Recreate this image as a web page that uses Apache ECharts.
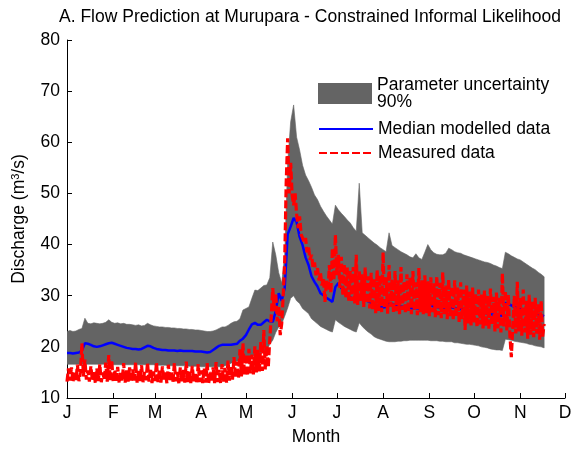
<!DOCTYPE html>
<html>
<head>
<meta charset="utf-8">
<script src="https://cdn.jsdelivr.net/npm/echarts@6/dist/echarts.min.js"></script>
<style>
  html, body { margin: 0; padding: 0; background: #fff; }
  #chart { width: 573px; height: 449px; }
</style>
</head>
<body>
<div id="chart"></div>
<script>
// Month start positions (day of year) and their tick labels
const MONTH_DAYS = [0, 31, 59, 90, 120, 151, 181, 212, 243, 273, 304, 334];
const MONTH_LABELS = ['J', 'F', 'M', 'A', 'M', 'J', 'J', 'A', 'S', 'O', 'N', 'D'];

// Modelled series are sampled every 2 days starting at day 0
const MODEL_STEP_DAYS = 2;

// 90% parameter-uncertainty band, upper limit (m3/s)
const bandUpper = [
  23.0,23.2,23.0,23.1,23.4,23.6,25.6,24.6,24.5,24.7,
  24.6,24.5,24.6,24.8,25.3,24.8,24.6,24.7,24.5,24.6,
  24.4,24.4,24.3,24.2,24.3,24.1,24.2,24.6,24.3,24.1,
  24.0,23.9,23.9,23.8,23.8,23.7,23.7,23.6,23.6,23.5,
  23.5,23.4,23.4,23.3,23.3,23.2,23.1,23.0,23.0,23.1,
  23.3,23.6,23.9,23.9,24.2,24.6,24.9,25.0,25.5,27.2,
  27.5,27.8,29.5,31.1,31.0,31.5,32.0,32.1,33.5,40.5,
  38.0,34.5,32.5,38.0,56.0,64.0,67.3,61.0,58.5,55.5,
  53.6,52.5,51.2,49.7,48.8,47.5,46.5,45.6,44.8,44.0,
  47.7,46.8,46.1,45.5,44.8,44.2,43.3,42.6,52.0,42.3,
  41.8,41.3,40.8,40.3,39.9,39.4,39.0,38.6,42.3,39.8,
  39.4,39.0,38.6,38.3,38.0,37.6,37.4,38.2,37.4,37.1,
  38.5,40.0,39.0,38.4,38.1,38.0,38.0,38.3,39.3,39.0,
  38.6,38.4,38.3,38.0,37.8,37.6,37.4,37.2,37.0,36.8,
  36.6,36.5,36.3,36.0,35.8,35.5,35.3,38.5,38.2,37.8,
  37.5,37.2,37.0,36.6,36.2,35.8,35.4,35.1,34.6,34.2,
  33.7
];

// 90% parameter-uncertainty band, lower limit (m3/s)
const bandLower = [
  16.6,16.6,16.6,16.6,16.6,16.6,16.6,16.6,16.6,16.6,
  16.6,16.6,16.6,16.6,16.6,16.5,16.5,16.5,16.5,16.5,
  16.5,16.5,16.5,16.5,16.5,16.5,16.5,16.5,16.5,16.5,
  16.4,16.4,16.4,16.4,16.3,16.3,16.3,16.3,16.3,16.3,
  16.3,16.2,16.2,16.2,16.2,16.1,16.1,16.1,16.1,16.1,
  16.1,16.1,16.1,16.3,16.5,16.8,17.0,17.2,17.4,17.6,
  17.8,18.0,18.2,18.3,18.6,18.8,19.1,19.4,20.5,21.3,
  22.8,23.9,24.5,26.0,27.6,29.5,30.0,29.0,28.5,27.5,
  27.0,26.5,25.5,25.0,24.5,24.0,23.7,23.4,23.1,22.9,
  25.3,24.8,24.4,24.0,23.7,23.4,23.1,22.9,24.7,24.0,
  23.4,22.9,22.5,22.0,21.7,21.5,21.3,21.1,21.0,21.0,
  21.0,21.1,21.1,21.2,21.2,21.3,21.3,21.3,21.3,21.3,
  21.3,21.3,21.2,21.2,21.2,21.1,21.1,21.0,21.0,21.0,
  20.8,20.8,20.7,20.6,20.5,20.5,20.4,20.3,20.2,20.0,
  19.9,19.8,19.6,19.5,19.4,19.4,19.3,21.5,21.4,21.3,
  21.1,21.0,20.9,20.8,20.7,20.5,20.4,20.2,20.1,20.0,
  19.8
];

// Median of the modelled discharge (m3/s)
const medianModelled = [
  18.8,18.8,18.7,18.8,18.9,19.3,20.7,20.6,20.4,20.1,
  20.0,20.1,20.3,20.5,20.7,20.8,20.6,20.4,20.2,20.0,
  19.8,19.7,19.6,19.6,19.5,19.6,19.9,20.2,20.1,19.8,
  19.6,19.5,19.4,19.4,19.3,19.3,19.3,19.2,19.3,19.2,
  19.2,19.2,19.2,19.1,19.1,19.1,19.0,18.9,19.0,19.4,
  19.8,20.2,20.4,20.4,20.4,20.4,20.5,20.6,21.2,21.6,
  22.3,23.4,24.4,24.7,24.3,24.3,24.8,25.3,25.0,24.9,
  27.0,30.5,29.0,31.5,42.0,43.5,45.2,44.4,41.5,39.9,
  37.5,36.0,33.8,32.7,31.8,30.5,30.1,29.6,29.2,28.8,
  31.7,32.5,31.5,30.7,30.2,29.7,29.4,29.1,30.0,29.6,
  29.2,28.9,28.6,28.2,27.8,27.8,27.7,27.8,28.6,28.4,
  28.2,28.0,27.9,27.8,27.7,27.6,27.5,27.6,27.5,27.4,
  27.6,28.3,28.1,27.9,27.8,27.7,27.6,27.7,27.8,27.7,
  27.6,27.5,27.4,27.3,27.2,27.1,27.0,26.9,26.8,26.7,
  26.6,26.5,26.4,26.3,26.2,26.2,26.1,28.6,28.4,28.1,
  27.8,27.6,27.4,27.2,27.0,26.8,26.7,26.5,26.4,26.2,
  26.0
];

// Measured discharge, one reading per day from day 0 (m3/s)
const measured = [
  13.2,15.8,13.4,16.0,13.1,15.2,13.5,16.5,13.3,15.0,
  20.7,14.2,17.5,13.6,15.4,13.2,16.2,13.5,15.1,13.0,
  15.8,13.3,16.6,13.1,15.0,13.6,16.9,13.2,18.4,13.4,
  17.4,13.1,15.5,13.3,16.1,12.9,15.2,13.4,16.8,13.0,
  15.4,13.2,16.0,13.1,15.6,13.4,17.0,13.0,15.3,13.3,
  16.4,13.1,15.1,13.5,16.9,13.2,15.8,12.9,15.2,13.3,
  17.0,13.1,15.6,13.0,16.2,13.4,15.0,12.9,16.5,13.2,
  15.3,13.0,16.8,13.3,15.1,12.9,16.0,13.2,15.5,13.0,
  17.1,13.1,15.2,12.9,16.3,13.3,15.0,12.8,16.6,13.1,
  15.4,12.9,15.9,13.0,16.8,12.8,15.1,13.2,16.0,12.9,
  17.0,13.1,15.5,12.9,16.6,13.2,15.9,13.0,17.3,13.4,
  16.2,13.6,18.0,14.0,17.1,13.8,19.5,14.2,20.7,14.5,
  18.6,14.3,19.6,14.8,18.5,14.6,20.1,15.0,19.4,15.2,
  21.0,15.3,23.3,15.5,20.2,16.0,21.5,26.0,31.5,27.0,
  30.5,25.0,28.0,22.3,24.5,30.0,36.6,52.0,60.8,50.0,
  56.0,49.7,47.7,50.0,46.0,43.2,45.5,42.0,41.3,40.5,
  41.3,38.5,39.5,37.0,38.0,35.5,36.5,34.0,35.4,33.0,
  34.5,32.0,33.5,28.8,33.0,31.0,36.0,30.5,39.3,33.0,
  41.9,34.0,38.0,31.5,37.6,30.0,36.2,29.5,35.5,28.8,
  34.8,29.0,35.6,28.5,38.0,28.2,35.0,29.0,34.2,27.8,
  35.5,28.5,33.8,27.5,34.5,27.2,33.5,26.6,35.0,27.0,
  34.0,26.8,38.5,27.5,33.6,26.5,36.0,27.8,33.2,26.6,
  34.8,27.0,33.0,26.4,35.6,27.2,32.8,26.5,34.2,26.8,
  33.5,26.4,34.8,27.0,32.6,26.2,35.4,26.8,33.0,26.4,
  34.0,26.6,32.8,26.0,33.6,26.8,32.4,25.8,33.8,26.2,
  32.5,25.6,34.6,26.4,32.0,25.4,33.2,26.0,31.8,25.2,
  33.0,25.8,31.6,24.8,32.6,25.4,31.2,23.3,32.0,24.6,
  30.8,24.2,31.6,24.8,30.4,23.8,31.2,24.4,30.2,23.6,
  31.0,24.0,30.0,23.4,31.4,24.2,29.8,23.0,30.6,23.6,
  29.6,22.8,34.4,24.0,31.0,23.2,30.2,22.4,18.0,24.0,
  30.0,22.6,32.7,23.0,29.6,22.2,31.2,22.8,29.0,21.6,
  30.2,22.4,28.8,21.9,29.6,22.6,28.4,21.4,29.0,22.0,
  24.5
];

// Y-axis range and tick spacing
const Y_MIN = 10, Y_MAX = 80, Y_STEP = 10;

const FONT = 'Liberation Sans, Arial, Helvetica, sans-serif';
const TEXT_SIZE = 17.5;
const BAND_GREY = '#646464';

// Rows of [day, lower, upper] for the uncertainty band
const bandRows = bandUpper.map((u, i) => [i * MODEL_STEP_DAYS, bandLower[i], u]);
const medianPairs = medianModelled.map((v, i) => [i * MODEL_STEP_DAYS, v]);
const measuredPairs = measured.map((v, i) => [i, v]);

const BAND_NAME = 'Parameter uncertainty 90%';
const MEDIAN_NAME = 'Median modelled data';
const MEASURED_NAME = 'Measured data';

// Draws the whole band as one polygon: along the upper limit, back along the lower one
function renderBand(params, api) {
  if (params.dataIndex !== 0) return null;
  const top = [], bottom = [];
  for (let i = 0; i < bandRows.length; i++) {
    const r = bandRows[i];
    top.push(api.coord([r[0], r[2]]));
    bottom.push(api.coord([r[0], r[1]]));
  }
  const points = top.concat(bottom.reverse());
  return {
    type: 'polygon',
    shape: { points: points },
    style: { fill: BAND_GREY, stroke: BAND_GREY, lineWidth: 0.6 },
    silent: true
  };
}

const chart = echarts.init(document.getElementById('chart'), null, { renderer: 'canvas' });

chart.setOption({
  animation: false,
  backgroundColor: '#ffffff',
  textStyle: { fontFamily: FONT, color: '#000' },
  title: {
    text: 'A. Flow Prediction at Murupara - Constrained Informal Likelihood',
    left: 54,
    top: 3,
    textStyle: { fontFamily: FONT, fontSize: TEXT_SIZE, fontWeight: 'normal', color: '#000' }
  },
  legend: [
    {
      data: [BAND_NAME],
      left: 313,
      top: 71,
      orient: 'vertical',
      icon: 'rect',
      itemWidth: 54,
      itemHeight: 21,
      selectedMode: false,
      itemStyle: { color: BAND_GREY },
      formatter: () => 'Parameter uncertainty\n90%',
      textStyle: { fontFamily: FONT, fontSize: TEXT_SIZE, lineHeight: 17, color: '#000' }
    },
    {
      data: [MEDIAN_NAME, MEASURED_NAME],
      left: 313,
      top: 115,
      orient: 'vertical',
      itemWidth: 54,
      itemHeight: 14,
      itemGap: 6,
      selectedMode: false,
      itemStyle: { opacity: 0 },
      textStyle: { fontFamily: FONT, fontSize: TEXT_SIZE, lineHeight: 17, color: '#000' }
    }
  ],
  grid: { left: 67, right: 8, top: 40, bottom: 51, outerBoundsMode: 'none', containLabel: false },
  xAxis: {
    type: 'value',
    min: MONTH_DAYS[0],
    max: MONTH_DAYS[MONTH_DAYS.length - 1],
    name: 'Month',
    nameLocation: 'middle',
    nameGap: 30,
    nameTextStyle: { fontFamily: FONT, fontSize: TEXT_SIZE, color: '#000' },
    axisLine: { onZero: false, lineStyle: { color: '#000', width: 1 } },
    axisTick: { inside: true, length: 5, customValues: MONTH_DAYS, lineStyle: { color: '#000' } },
    axisLabel: {
      customValues: MONTH_DAYS,
      margin: 6,
      fontFamily: FONT,
      fontSize: TEXT_SIZE,
      color: '#000',
      formatter: v => MONTH_LABELS[MONTH_DAYS.indexOf(v)]
    },
    splitLine: { show: false }
  },
  yAxis: {
    type: 'value',
    min: Y_MIN,
    max: Y_MAX,
    interval: Y_STEP,
    name: 'Discharge (m{sup|3}/s)',
    nameLocation: 'middle',
    nameGap: 31,
    nameTextStyle: {
      fontFamily: FONT,
      fontSize: TEXT_SIZE,
      color: '#000',
      rich: {
        sup: { fontFamily: FONT, fontSize: 11, color: '#000', verticalAlign: 'top', lineHeight: 11, padding: [0, 0, 8, 0] }
      }
    },
    axisLine: { show: true, lineStyle: { color: '#000', width: 1 } },
    axisTick: { show: true, inside: true, length: 5, lineStyle: { color: '#000' } },
    axisLabel: { margin: 7, fontFamily: FONT, fontSize: TEXT_SIZE, color: '#000' },
    splitLine: { show: false }
  },
  series: [
    {
      name: BAND_NAME,
      type: 'custom',
      renderItem: renderBand,
      data: bandRows,
      encode: { x: 0, y: [1, 2] },
      itemStyle: { color: BAND_GREY },
      silent: true,
      clip: true,
      z: 1
    },
    {
      name: MEDIAN_NAME,
      type: 'line',
      data: medianPairs,
      symbol: 'none',
      silent: true,
      itemStyle: { color: '#0000ff' },
      lineStyle: { color: '#0000ff', width: 2.5 },
      z: 2
    },
    {
      name: MEASURED_NAME,
      type: 'line',
      data: measuredPairs,
      symbol: 'none',
      silent: true,
      itemStyle: { color: '#ff0000' },
      lineStyle: { color: '#ff0000', width: 3.2, type: [8, 3] },
      z: 3
    }
  ]
});
</script>
</body>
</html>
